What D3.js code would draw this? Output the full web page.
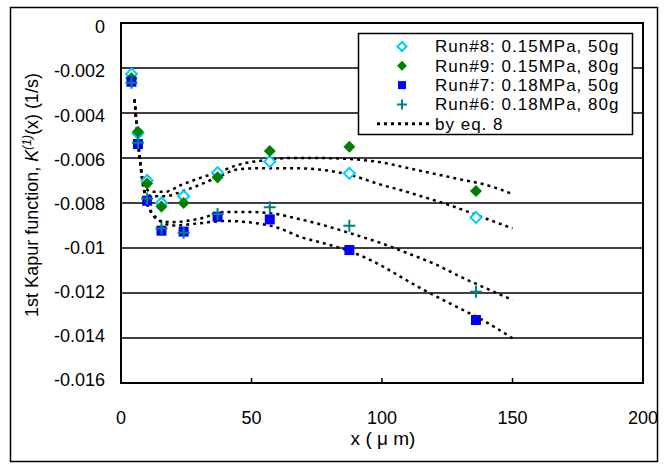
<!DOCTYPE html>
<html>
<head>
<meta charset="utf-8">
<script src="https://cdn.jsdelivr.net/npm/d3@7"></script>
<style>
    body { margin: 0; background: #fff; }
    text { font-family: "Liberation Sans", Arial, sans-serif; fill: #000; }
</style>
</head>
<body>
<div id="chart"></div>
<script>
// measured positions (um) and values of the 1st Kapur function (1/s)
const xPos = [4, 6.5, 10, 15.5, 24, 37, 57, 87.5, 136];
const run8 = [-0.00227, -0.0049, -0.0070, -0.0080, -0.0077, -0.00665, -0.00616, -0.00668, -0.00864];
const run9 = [-0.00246, -0.00483, -0.00713, -0.00816, -0.0080, -0.00686, -0.00569, -0.0055, -0.00747];
const run7 = [-0.00261, -0.00538, -0.0079, -0.00923, -0.00927, -0.00861, -0.00873, -0.01009, -0.0132];
const run6 = [-0.00265, -0.00532, -0.0078, -0.00913, -0.00932, -0.00849, -0.00819, -0.00901, -0.01194];

// curves "by eq. 8"
const fitX9 = [5.2, 7, 9, 12, 17, 23, 30, 38, 45, 55, 65, 75, 88, 100, 110, 120, 130, 140, 150];
const fitY9 = [-0.0034, -0.0058, -0.0073, -0.0075, -0.0075, -0.0072, -0.0069, -0.0066, -0.0063, -0.0061, -0.0060, -0.0060, -0.00605, -0.0062, -0.00645, -0.0067, -0.00695, -0.0072, -0.0076];
const fitX8 = [5.2, 7, 9, 12, 17, 23, 30, 38, 45, 55, 65, 75, 88, 100, 107, 115, 126, 140, 150];
const fitY8 = [-0.0034, -0.0058, -0.0075, -0.0077, -0.0077, -0.0075, -0.0072, -0.0068, -0.0065, -0.00645, -0.00645, -0.0065, -0.00676, -0.0072, -0.00742, -0.0077, -0.0081, -0.0087, -0.00913];
const fitX6 = [5.2, 7, 9.7, 12, 15, 20, 30, 40, 50, 60, 67, 78, 88, 100, 110, 120, 130, 140, 150];
const fitY6 = [-0.0034, -0.0058, -0.0079, -0.0085, -0.0088, -0.00885, -0.0087, -0.0084, -0.0084, -0.0085, -0.00868, -0.0090, -0.00935, -0.0098, -0.01024, -0.0107, -0.01127, -0.0118, -0.01231];
const fitX7 = [5.2, 7, 9.7, 12.4, 15, 20, 30, 40, 50, 60, 68.6, 78, 88, 100, 107, 115, 126, 140, 150];
const fitY7 = [-0.0034, -0.0058, -0.0079, -0.0085, -0.0088, -0.0090, -0.0089, -0.0088, -0.00887, -0.0091, -0.0095, -0.0098, -0.01016, -0.0108, -0.01127, -0.0118, -0.01246, -0.0133, -0.01401];

const yTicks = [0, -0.002, -0.004, -0.006, -0.008, -0.01, -0.012, -0.014, -0.016];
const xTicks = [0, 50, 100, 150, 200];
const legendLabels = ["Run#8: 0.15MPa, 50g", "Run#9: 0.15MPa, 80g", "Run#7: 0.18MPa, 50g", "Run#6: 0.18MPa, 80g", "by eq. 8"];

class KapurChart {

    constructor(config) {
        this.config = config;
        this.initVis();
    }

    initVis() {
        const vis = this;
        const c = vis.config;

        vis.xScale = d3.scaleLinear().domain([0, 200]).range([c.left, c.right]);
        vis.yScale = d3.scaleLinear().domain([0, -0.016]).range([c.top, c.bottom]);
        // Excel spaces the tick labels a little tighter than the grid
        vis.yLabelScale = d3.scaleLinear().domain([0, -0.016]).range([c.top + 4, c.bottom - 3]);

        vis.svg = d3.select(c.parentElement).append('svg')
            .attr('width', c.width)
            .attr('height', c.height);

        vis.series = [
            { values: run8, kind: 'openDiamond', color: '#00CCFF' },
            { values: run9, kind: 'diamond', color: '#008000' },
            { values: run7, kind: 'square', color: '#0000FF' },
            { values: run6, kind: 'plus', color: '#008080' }
        ];
        vis.fits = [[fitX9, fitY9], [fitX8, fitY8], [fitX6, fitY6], [fitX7, fitY7]];

        vis.renderVis();
    }

    marker(sel, kind, color, s) {
        if (kind === 'openDiamond') {
            sel.append('path')
                .attr('d', d3.symbol(d3.symbolSquare, s * s * 0.5)())
                .attr('transform', 'rotate(45)')
                .attr('fill', '#fff')
                .attr('stroke', color)
                .attr('stroke-width', 2);
        } else if (kind === 'diamond') {
            sel.append('path')
                .attr('d', d3.symbol(d3.symbolSquare, s * s * 0.6)())
                .attr('transform', 'rotate(45)')
                .attr('fill', color);
        } else if (kind === 'square') {
            sel.append('rect')
                .attr('x', -s / 2 + 0.5).attr('y', -s / 2 + 0.5)
                .attr('width', s - 1).attr('height', s - 1)
                .attr('fill', color);
        } else {
            sel.append('path')
                .attr('d', `M${-s / 2 - 0.5},0H${s / 2 + 0.5}M0,${-s / 2 - 0.5}V${s / 2 + 0.5}`)
                .attr('stroke', color)
                .attr('stroke-width', 2);
        }
    }

    renderVis() {
        const vis = this;
        const c = vis.config;

        // outer frame
        vis.svg.append('rect')
            .attr('x', 10.5).attr('y', 7.5)
            .attr('width', c.width - 18).attr('height', c.height - 10)
            .attr('fill', 'none')
            .attr('stroke', '#000')
            .attr('stroke-width', 1.5);

        // gridlines
        vis.svg.append('g')
            .selectAll('line')
            .data(yTicks.slice(1, -1))
            .join('line')
            .attr('x1', c.left).attr('x2', c.right)
            .attr('y1', d => vis.yScale(d)).attr('y2', d => vis.yScale(d))
            .attr('stroke', '#000')
            .attr('stroke-width', 1.5);

        // x ticks (inside)
        vis.svg.append('g')
            .selectAll('line')
            .data(xTicks)
            .join('line')
            .attr('x1', d => vis.xScale(d)).attr('x2', d => vis.xScale(d))
            .attr('y1', c.bottom).attr('y2', c.bottom - 5)
            .attr('stroke', '#000')
            .attr('stroke-width', 1.5);

        vis.svg.append('rect')
            .attr('x', c.left).attr('y', c.top)
            .attr('width', c.right - c.left).attr('height', c.bottom - c.top)
            .attr('fill', 'none')
            .attr('stroke', '#000')
            .attr('stroke-width', 2);

        // tick labels
        vis.svg.append('g')
            .selectAll('text')
            .data(yTicks)
            .join('text')
            .attr('x', c.left - 16)
            .attr('y', d => vis.yLabelScale(d))
            .attr('dy', '0.35em')
            .attr('text-anchor', 'end')
            .style('font-size', '18px')
            .text(d => d === 0 ? '0' : d3.format('')(d).replace('−', '-'));

        vis.svg.append('g')
            .selectAll('text')
            .data(xTicks)
            .join('text')
            .attr('x', d => vis.xScale(d))
            .attr('y', c.bottom + 41)
            .attr('text-anchor', 'middle')
            .style('font-size', '18px')
            .text(d => d);

        // axis titles
        vis.svg.append('text')
            .attr('x', (c.left + c.right) / 2 + 1)
            .attr('y', c.bottom + 62)
            .attr('text-anchor', 'middle')
            .style('font-size', '19px')
            .text('x ( μ m)');

        const yTitle = vis.svg.append('text')
            .attr('transform', `translate(38, ${(c.top + c.bottom) / 2 - 8}) rotate(-90)`)
            .attr('text-anchor', 'middle')
            .style('font-size', '18px');
        yTitle.append('tspan').text('1st Kapur function, ');
        yTitle.append('tspan').style('font-style', 'italic').text('K');
        yTitle.append('tspan').style('font-style', 'italic').style('font-size', '12px')
            .attr('dy', -7).text('(1)');
        yTitle.append('tspan').attr('dy', 7).text('(x) (1/s)');

        // fitted curves
        const line = d3.line()
            .x(d => vis.xScale(d[0]))
            .y(d => vis.yScale(d[1]))
            .curve(d3.curveMonotoneX);

        vis.svg.append('g')
            .selectAll('path')
            .data(vis.fits.map(f => f[0].map((x, i) => [x, f[1][i]])))
            .join('path')
            .attr('d', line)
            .attr('fill', 'none')
            .attr('stroke', '#000')
            .attr('stroke-width', 2.5)
            .attr('stroke-dasharray', '3,4');

        // data points
        vis.series.forEach(s => {
            vis.svg.append('g')
                .selectAll('g')
                .data(s.values.map((v, i) => [xPos[i], v]))
                .join('g')
                .attr('transform', d => `translate(${vis.xScale(d[0])},${vis.yScale(d[1])})`)
                .each(function () { vis.marker(d3.select(this), s.kind, s.color, 11); });
        });

        // legend
        const lg = vis.svg.append('g');
        lg.append('rect')
            .attr('x', 358.5).attr('y', 33.5)
            .attr('width', 274).attr('height', 101)
            .attr('fill', '#fff')
            .attr('stroke', '#000')
            .attr('stroke-width', 1.5);

        const rows = lg.selectAll('g')
            .data(legendLabels)
            .join('g')
            .attr('transform', (d, i) => `translate(0, ${46.5 + i * 19.3})`);

        rows.append('text')
            .attr('x', 435)
            .attr('dy', '0.35em')
            .style('font-size', '17px')
            .style('letter-spacing', '1px')
            .text(d => d);

        rows.each(function (d, i) {
            const g = d3.select(this);
            if (i < vis.series.length) {
                const m = g.append('g').attr('transform', 'translate(402, 0)');
                vis.marker(m, vis.series[i].kind, vis.series[i].color, 9);
            } else {
                g.append('line')
                    .attr('x1', 377).attr('x2', 429)
                    .attr('stroke', '#000')
                    .attr('stroke-width', 3)
                    .attr('stroke-dasharray', '3,4');
            }
        });
    }
}

new KapurChart({
    parentElement: '#chart',
    width: 665,
    height: 464,
    left: 121,
    right: 643,
    top: 23,
    bottom: 383
});
</script>
</body>
</html>
